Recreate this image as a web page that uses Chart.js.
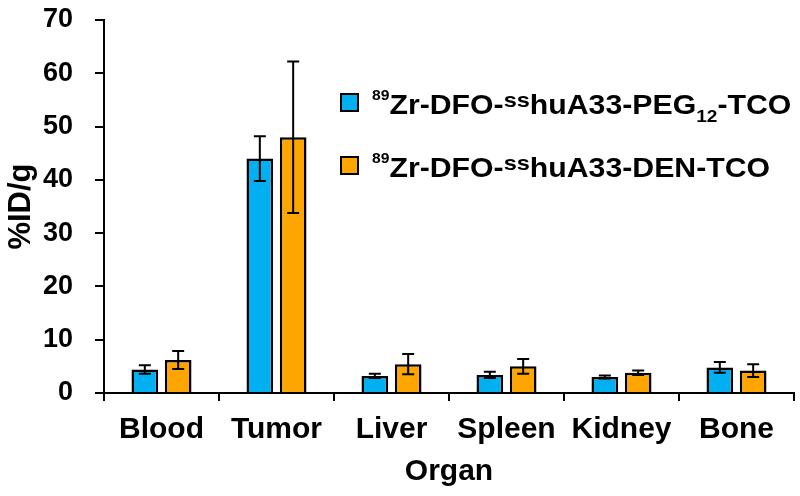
<!DOCTYPE html>
<html>
<head>
<meta charset="utf-8">
<script src="https://cdn.jsdelivr.net/npm/chart.js@4.4.0/dist/chart.umd.min.js"></script>
<style>
  body { margin: 0; background: #fff; }
  #wrap { position: relative; width: 800px; height: 496px; }
  .row {
    position: absolute; left: 340px; height: 27px; line-height: 27px; white-space: nowrap;
    font-family: "Liberation Sans", Arial, sans-serif; font-weight: bold; font-size: 27px; color: #000;
  }
  .box { position: absolute; left: 0; top: 1px; width: 19px; height: 19px; box-sizing: border-box; border: 2.5px solid #000; }
  .txt { position: absolute; left: 32px; top: 0; transform: scaleX(1.12); transform-origin: left center; }
  .txt sup { font-size: 14px; vertical-align: baseline; position: relative; top: -14px; line-height: 0; }
  .txt sup.ss { font-size: 21px; top: -7px; }
  .txt sub { font-size: 17px; vertical-align: baseline; position: relative; top: 8px; line-height: 0; }
</style>
</head>
<body>
<div id="wrap">
  <canvas id="grafico" width="800" height="496"></canvas>
  <div class="row" style="top:92px"><span class="box" style="background:#00B0F0"></span><span class="txt"><sup>89</sup>Zr-DFO-<sup class="ss">ss</sup>huA33-PEG<sub>12</sub>-TCO</span></div>
  <div class="row" style="top:155px"><span class="box" style="background:#FFA500"></span><span class="txt"><sup>89</sup>Zr-DFO-<sup class="ss">ss</sup>huA33-DEN-TCO</span></div>
</div>
<script>
// datos
const organos = ['Blood', 'Tumor', 'Liver', 'Spleen', 'Kidney', 'Bone'];
const peg12 = [4.4, 44.0, 3.2, 3.4, 3.0, 4.8];
const peg12Error = [0.8, 4.2, 0.4, 0.6, 0.3, 1.0];
const den = [6.2, 48.0, 5.4, 5.0, 3.8, 4.2];
const denError = [1.7, 14.2, 1.9, 1.4, 0.4, 1.2];
const ticksY = [0, 10, 20, 30, 40, 50, 60, 70];

const fuente = "'Liberation Sans', Arial, sans-serif";

// barras de error dibujadas con las escalas del grafico
const barrasError = {
    id: 'barrasError',
    afterDatasetsDraw(chart) {
        const ctx = chart.ctx;
        const y = chart.scales.y;
        chart.data.datasets.forEach((ds, i) => {
            const meta = chart.getDatasetMeta(i);
            meta.data.forEach((bar, j) => {
                const v = ds.data[j], e = ds.errores[j];
                const top = y.getPixelForValue(v + e);
                const bot = y.getPixelForValue(v - e);
                ctx.save();
                ctx.strokeStyle = '#000';
                ctx.lineWidth = 2;
                ctx.beginPath();
                ctx.moveTo(bar.x, top); ctx.lineTo(bar.x, bot);
                ctx.moveTo(bar.x - 6, top); ctx.lineTo(bar.x + 6, top);
                ctx.moveTo(bar.x - 6, bot); ctx.lineTo(bar.x + 6, bot);
                ctx.stroke();
                ctx.restore();
            });
        });
    }
};

const ctx = document.getElementById('grafico');
new Chart(ctx, {
    type: 'bar',
    data: {
        labels: organos,
        datasets: [{
            label: '89Zr-DFO-sshuA33-PEG12-TCO',
            data: peg12,
            errores: peg12Error,
            backgroundColor: '#00B0F0',
            borderColor: '#000',
            borderWidth: 2.5
        }, {
            label: '89Zr-DFO-sshuA33-DEN-TCO',
            data: den,
            errores: denError,
            backgroundColor: '#FFA500',
            borderColor: '#000',
            borderWidth: 2.5
        }]
    },
    options: {
        responsive: false,
        animation: false,
        categoryPercentage: 0.58,
        barPercentage: 0.8,
        layout: { padding: { top: 20, right: 6, left: 0, bottom: 0 } },
        plugins: { legend: { display: false }, tooltip: { enabled: false } },
        scales: {
            x: {
                grid: { offset: true, drawOnChartArea: false, drawTicks: true, tickLength: 8, tickColor: '#000', lineWidth: 2 },
                border: { color: '#000', width: 2 },
                ticks: { color: '#000', padding: 11, font: { family: fuente, size: 30, weight: 'bold' } },
                title: { display: true, text: 'Organ', color: '#000', padding: { top: 0, bottom: 6 }, font: { family: fuente, size: 30, weight: 'bold' } },
                afterFit(scale) { scale.height = 103; }
            },
            y: {
                min: 0,
                max: 70,
                afterBuildTicks(scale) { scale.ticks = ticksY.map(v => ({ value: v })); },
                grid: { drawOnChartArea: false, drawTicks: true, tickLength: 9, tickColor: '#000', lineWidth: 2 },
                border: { color: '#000', width: 2 },
                ticks: { color: '#000', padding: 22, font: { family: fuente, size: 27, weight: 'bold' } },
                title: { display: true, text: '%ID/g', color: '#000', padding: { top: 3, bottom: 0 }, font: { family: fuente, size: 31, weight: 'bold' } },
                afterFit(scale) {
                    scale.width = 104;
                    scale.paddingTop = 0;
                    scale.paddingBottom = 0;
                }
            }
        }
    },
    plugins: [barrasError]
});
</script>
</body>
</html>
